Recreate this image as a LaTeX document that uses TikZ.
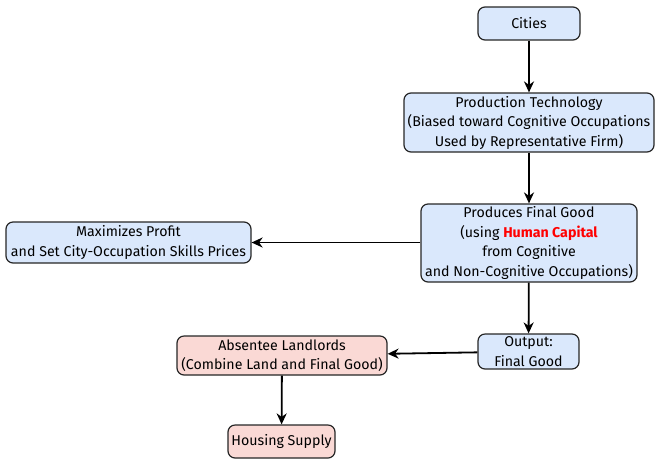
\documentclass[tikz,border=0pt]{standalone}
\usepackage{fontspec}
\setmainfont{Fira Sans}
\usetikzlibrary{arrows.meta}
\definecolor{bluefill}{HTML}{DAE8FC}
\definecolor{pinkfill}{HTML}{FAD9D5}
\tikzset{
  box/.style={draw=black!85, line width=1.2pt, rounded corners=7pt, align=center,
    inner sep=1pt, font=\fontsize{14.2}{19.5}\selectfont},
  bluebox/.style={box, fill=bluefill},
  pinkbox/.style={box, fill=pinkfill},
  arr/.style={-{Stealth[length=11pt,width=10pt,inset=3.5pt]}, line width=1.8pt}
}
\begin{document}
\begin{tikzpicture}[x=1pt,y=-1pt]
\useasboundingbox (0,0) rectangle (655,459);
\node[bluebox, minimum width=102pt, minimum height=33pt] (cities) at (529,23.5) {Cities};
\node[bluebox, minimum width=250pt, minimum height=59pt] (tech) at (529,122.5) {Production Technology\\(Biased toward Cognitive Occupations\\Used by Representative Firm)};
\node[bluebox, minimum width=216pt, minimum height=78pt] (prod) at (529,243) {Produces Final Good\\(using \textcolor{red}{\textbf{Human Capital}}\\from Cognitive\\and Non-Cognitive Occupations)};
\node[bluebox, minimum width=245pt, minimum height=41pt] (max) at (128.5,242.5) {Maximizes Profit\\and Set City-Occupation Skills Prices};
\node[bluebox, minimum width=101pt, minimum height=35pt] (out) at (528.5,351.5) {Output:\\Final Good};
\node[pinkbox, minimum width=210pt, minimum height=39pt] (land) at (282,355.5) {Absentee Landlords\\(Combine Land and Final Good)};
\node[pinkbox, minimum width=107pt, minimum height=33pt] (house) at (281.5,441.5) {Housing Supply};
\draw[arr] (cities) -- (tech);
\draw[arr] (tech) -- (prod);
\draw[arr] (prod.west |- max.east) -- (max.east);
\draw[arr] (prod) -- (out);
\draw[arr] (out) -- (land);
\draw[arr] (land) -- (house);
\end{tikzpicture}
\end{document}
